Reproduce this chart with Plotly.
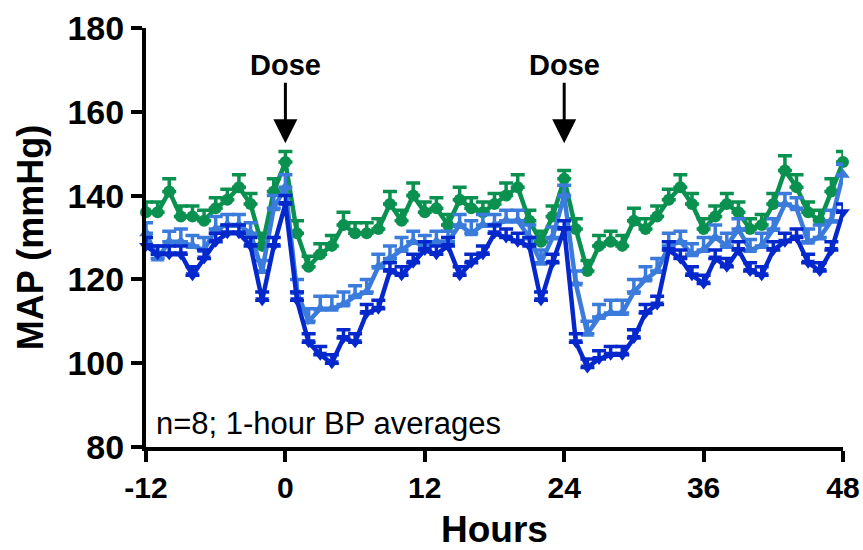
import plotly.graph_objects as go

hours = list(range(-12, 49))

green = [136, 136, 141, 135, 135, 134, 137, 139, 142, 138, 128, 141, 148,
         131, 123, 126, 128, 133, 131, 131, 132, 138, 134, 140, 136, 137, 133,
         139, 137, 136, 138, 140, 142, 134, 129, 135, 144, 132, 122, 128, 129,
         128, 134, 132, 135, 139, 142, 138, 132, 135, 138, 136, 132, 133, 138,
         146, 142, 136, 134, 141, 148]
green_err = [2.5, 2.5, 3, 2.5, 2.5, 2.5, 2.5, 2.5, 3, 2.5, 3, 3, 2.5,
             3, 2.5, 2.5, 2.5, 3, 2.5, 2.5, 2.5, 3, 2.5, 3, 2.5, 2.5, 2.5,
             3, 2.5, 2.5, 2.5, 3, 3, 2.5, 2.5, 2.5, 2, 2.5, 2.5, 2.5, 2.5,
             2.5, 3, 2.5, 2.5, 2.5, 3, 2.5, 2.5, 2.5, 2.5, 2.5, 2.5, 2.5, 2.5,
             3.5, 3, 2.5, 2.5, 3, 2.5]

light = [131, 125, 129, 129, 128, 127, 132, 133, 133, 131, 122, 137, 142,
         117, 110, 113, 113, 114, 116, 117, 123, 125, 127, 129, 128, 129, 129,
         133, 131, 133, 133, 134, 134, 130, 124, 130, 140, 119, 107, 111, 112,
         112, 117, 120, 122, 128, 129, 126, 127, 130, 128, 132, 127, 128, 132,
         138, 137, 129, 130, 134, 145]
light_err = [2.5, 3, 2.5, 3, 2.5, 3, 3, 2.5, 2.5, 2.5, 2.5, 3, 3,
             3, 3, 3, 3, 3, 2.5, 3, 3, 3, 3, 2.5, 2.5, 2.5, 2.5,
             2.5, 3, 2.5, 2.5, 2.5, 2.5, 3, 3, 2.5, 2.5, 3, 3, 3, 3,
             3, 3, 3, 3, 3, 2.5, 2.5, 3, 3, 3, 2.5, 2.5, 3, 2.5,
             2.5, 2.5, 3, 3, 2.5, 2.5]

dark = [128, 126, 126, 126, 121, 125, 129, 131, 131, 128, 115, 128, 138,
        115, 105, 102, 100, 106, 105, 112, 113, 122, 121, 124, 127, 126, 128,
        121, 124, 126, 131, 130, 129, 128, 115, 124, 132, 105, 99, 101, 102,
        102, 106, 112, 114, 127, 125, 121, 119, 125, 123, 127, 122, 121, 127,
        129, 130, 124, 122, 127, 136]
dark_err = [2, 2, 2, 2, 2, 2, 2, 2, 2, 2, 2, 2, 2,
            2, 2, 2, 2, 2, 2, 2, 2, 2, 2, 2, 2, 2, 2,
            2, 2, 2, 2, 2, 2, 2, 2, 2, 2, 2, 2, 2, 2,
            2, 2, 2, 2, 2, 2, 2, 2, 2, 2, 2, 2, 2, 2,
            2, 2, 2, 2, 2, 2]

x_ticks = [-12, 0, 12, 24, 36, 48]
y_ticks = [80, 100, 120, 140, 160, 180]
dose_times = [0, 24]

FONT = "Arial, Liberation Sans, sans-serif"

fig = go.Figure()

series = [
    (green, green_err, "#0a9150", "circle"),
    (light, light_err, "#3a7bdc", "triangle-up"),
    (dark, dark_err, "#0528cc", "triangle-down"),
]
for vals, err, color, sym in series:
    fig.add_trace(go.Scatter(
        x=hours, y=vals, mode="lines+markers",
        line=dict(color=color, width=4.5),
        marker=dict(color=color, size=12, symbol=sym),
        error_y=dict(type="data", array=err, arrayminus=[0] * len(err),
                     symmetric=False, color=color, thickness=3.5, width=7),
        cliponaxis=False, showlegend=False,
    ))

for t in dose_times:
    fig.add_annotation(
        x=t, y=152.5, xref="x", yref="y", text="<b>Dose</b>",
        showarrow=True, ax=0, ay=-78, arrowhead=2, arrowsize=1.6,
        arrowwidth=3, arrowcolor="black",
        font=dict(family=FONT, size=29, color="black"),
    )

fig.add_annotation(
    x=-11.3, y=85.5, xref="x", yref="y", text="n=8; 1-hour BP averages",
    showarrow=False, xanchor="left", yanchor="middle",
    font=dict(family=FONT, size=31, color="black"),
)

fig.update_layout(
    width=863, height=550,
    margin=dict(l=146, r=20, t=28, b=103),
    plot_bgcolor="white", paper_bgcolor="white",
    font=dict(family=FONT, color="black"),
)
fig.update_xaxes(
    range=[-12, 48], tickvals=x_ticks, ticktext=[str(v) for v in x_ticks],
    showgrid=False, zeroline=False, showline=True, linecolor="black",
    linewidth=4, ticks="outside", ticklen=11, tickwidth=3.5, tickcolor="black",
    tickfont=dict(family=FONT, size=30, color="black", weight="bold"),
    title=dict(text="<b>Hours</b>", font=dict(family=FONT, size=37), standoff=20),
    automargin=False,
)
fig.update_yaxes(
    range=[80, 180], tickvals=y_ticks,
    showgrid=False, zeroline=False, showline=True, linecolor="black",
    linewidth=4, ticks="outside", ticklen=11, tickwidth=3.5, tickcolor="black",
    tickfont=dict(family=FONT, size=34, color="black", weight="bold"),
    title=dict(text="<b>MAP (mmHg)</b>", font=dict(family=FONT, size=36), standoff=14),
    automargin=False,
)

fig.write_html("out.html", config={"displayModeBar": False},
               post_script="document.body.style.margin='0';")
